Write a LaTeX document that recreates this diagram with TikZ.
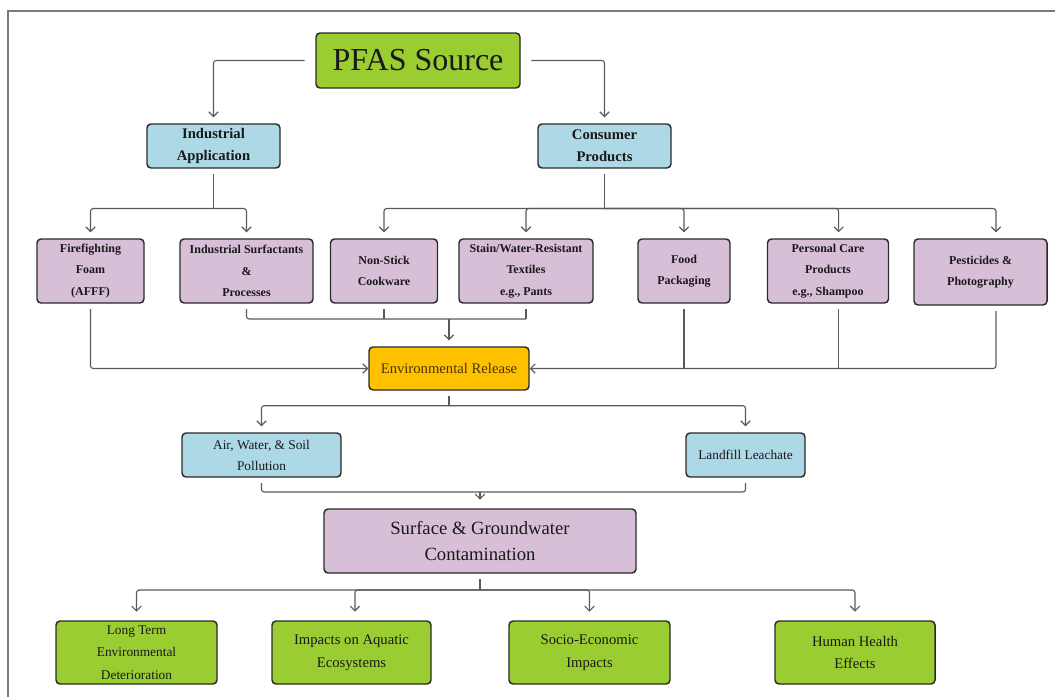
\documentclass[tikz,border=0pt]{standalone}
\usepackage{fontspec}
\setmainfont{Liberation Serif}
\usetikzlibrary{arrows.meta}
\definecolor{pgreen}{HTML}{9ACD32}
\definecolor{pblue}{HTML}{ADD8E6}
\definecolor{ppurple}{HTML}{D8BFD8}
\definecolor{pgold}{HTML}{FFC000}
\definecolor{boxline}{HTML}{2A2A2A}
\definecolor{linec}{HTML}{5A5A5A}
\definecolor{framec}{HTML}{7A7A7A}
\definecolor{envtext}{HTML}{4A3500}
\begin{document}
\begin{tikzpicture}[x=0.75pt,y=-0.75pt,
  box/.style={draw=boxline, line width=1.1pt, rounded corners=3pt, inner sep=0pt, align=center, text=black!90},
  sz/.style 2 args={minimum width=#1*0.75pt, minimum height=#2*0.75pt},
  rowbox/.style={box, fill=ppurple, font=\bfseries\fontsize{9}{16}\selectfont},
  endbox/.style={box, fill=pgreen, font=\fontsize{11}{17}\selectfont},
  line/.style={draw=linec, line width=0.85pt, rounded corners=2pt},
  arr/.style={line, -{Straight Barb[length=3.5pt,width=7pt]}, shorten >=4.5pt}
]
\useasboundingbox (0,0) rectangle (1055,697);
\draw[framec, line width=1.2pt] (8,697) -- (8,11) -- (1055,11);

% nodes
\node[box, fill=pgreen, sz={204}{55}, font=\fontsize{24}{28}\selectfont] (pfas) at (418,60.5) {PFAS Source};
\node[box, fill=pblue, sz={133}{44}, font=\bfseries\fontsize{11}{16.5}\selectfont] (ind) at (213.5,146) {Industrial\\Application};
\node[box, fill=pblue, sz={133}{44}, font=\bfseries\fontsize{11}{16.5}\selectfont] (con) at (604.5,146) {Consumer\\Products};

\node[rowbox, sz={107}{64}] (fire) at (90.5,271) {Firefighting\\Foam\\(AFFF)};
\node[rowbox, sz={133}{64}] (isp) at (246.5,271) {Industrial Surfactants\\\&\\Processes};
\node[rowbox, sz={107}{64}] (nsc) at (384,271) {Non-Stick\\Cookware};
\node[rowbox, sz={134}{64}] (stn) at (526,271) {Stain/Water-Resistant\\Textiles\\e.g., Pants};
\node[rowbox, sz={92}{64}] (food) at (684,271) {Food\\Packaging};
\node[rowbox, sz={121}{64}] (pcp) at (828,271) {Personal Care\\Products\\e.g., Shampoo};
\node[rowbox, sz={133}{66}] (pest) at (980.5,272) {Pesticides \&\\Photography};

\node[box, fill=pgold, sz={160}{43}, font=\fontsize{11}{13}\selectfont, text=envtext] (env) at (449,368.5) {Environmental Release};

\node[box, fill=pblue, sz={159}{44}, font=\fontsize{10}{15.75}\selectfont] (air) at (261.5,455) {Air, Water, \& Soil\\Pollution};
\node[box, fill=pblue, sz={119}{44}, font=\fontsize{10}{15.75}\selectfont] (land) at (745.5,455) {Landfill Leachate};

\node[box, fill=ppurple, sz={312}{64}, font=\fontsize{14}{20}\selectfont] (sgw) at (480,541) {Surface \& Groundwater\\Contamination};

\node[endbox, sz={161}{63}, font=\fontsize{10}{17}\selectfont] (lt) at (136.5,652.5) {Long Term\\Environmental\\Deterioration};
\node[endbox, sz={159}{63}] (aq) at (351.5,652.5) {Impacts on Aquatic\\Ecosystems};
\node[endbox, sz={161}{63}] (se) at (589.5,652.5) {Socio-Economic\\Impacts};
\node[endbox, sz={160}{63}] (hh) at (855,652.5) {Human Health\\Effects};

% helper levels
\coordinate (y1) at (0,208.5);
\coordinate (y3) at (0,319);
\coordinate (y5) at (0,405.7);
\coordinate (y6) at (0,492);
\coordinate (y7) at (0,590);

% PFAS source
\draw[arr, shorten <=8pt] (pfas.west) -| (ind.north);
\draw[arr, shorten <=8pt] (pfas.east) -| (con.north);

% industrial
\draw[line, shorten <=4pt] (ind.south) -- (ind.south |- y1);
\draw[arr] (ind.south |- y1) -| (fire.north);
\draw[arr] (ind.south |- y1) -| (isp.north);

% consumer
\draw[line, shorten <=4pt] (con.south) -- (con.south |- y1);
\draw[arr] (con.south |- y1) -| (nsc.north);
\draw[arr] (con.south |- y1) -| (stn.north);
\draw[arr] (con.south |- y1) -| (food.north);
\draw[arr] (con.south |- y1) -| ([xshift=8pt]pcp.north);
\draw[arr] (con.south |- y1) -| ([xshift=11.6pt]pest.north);

% to environmental release
\draw[line, shorten <=4pt] (isp.south) |- (stn.south |- y3);
\draw[line, shorten <=4pt] (stn.south) -- (stn.south |- y3);
\draw[line, shorten <=4pt] (nsc.south) -- (nsc.south |- y3);
\draw[arr] (env.north |- y3) -- (env.north);
\draw[arr, shorten <=4pt, shorten >=0pt] (fire.south) |- (env.west);
\draw[arr, shorten <=4pt, shorten >=0pt] ([xshift=11.6pt]pest.south) |- (env.east);
\draw[line, shorten <=4pt] (food.south) -- (food.south |- env.east);
\draw[line, shorten <=4pt] ([xshift=8pt]pcp.south) -- ([xshift=8pt]pcp.south |- env.east);

% environmental release outputs
\draw[line, shorten <=4pt] (env.south) -- (env.south |- y5);
\draw[arr] (env.south |- y5) -| (air.north);
\draw[arr] (env.south |- y5) -| (land.north);

% to surface & groundwater
\draw[line, shorten <=4pt, shorten >=4pt] (air.south) |- (land.south |- y6) -- (land.south);
\draw[arr, shorten >=6.5pt] (sgw.north |- y6) -- (sgw.north);

% impacts
\draw[line, shorten <=4pt] (sgw.south) -- (sgw.south |- y7);
\draw[arr, shorten >=6.5pt] (sgw.south |- y7) -| (lt.north);
\draw[arr, shorten >=6.5pt] (sgw.south |- y7) -| ([xshift=2.6pt]aq.north);
\draw[arr, shorten >=6.5pt] (sgw.south |- y7) -| (se.north);
\draw[arr, shorten >=6.5pt] (sgw.south |- y7) -| (hh.north);
\end{tikzpicture}
\end{document}
